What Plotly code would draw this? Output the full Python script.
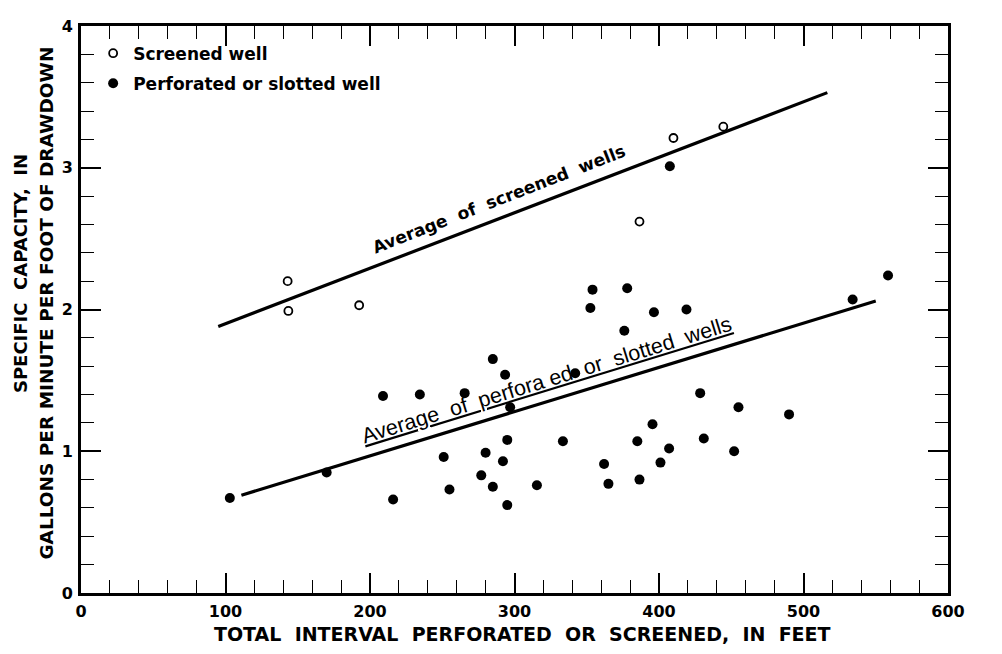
import plotly.graph_objects as go

# Screened wells (open circles)
screened_x = [143, 143.5, 192.5, 386.5, 410, 444.5]
screened_y = [2.20, 1.99, 2.03, 2.62, 3.21, 3.29]

# Perforated or slotted wells (filled circles)
perforated_x = [103, 170, 209, 216, 234.5, 251, 255, 265.5, 277, 280, 285, 285,
                292, 293.5, 295, 295, 297, 315.5, 333.5, 342, 352.5, 354, 362, 365,
                376, 378, 385, 386.5, 395.5, 396.5, 401, 407, 407.5, 419, 428.5,
                431, 452, 455, 490, 534, 558.5]
perforated_y = [0.67, 0.85, 1.39, 0.66, 1.40, 0.96, 0.73, 1.41, 0.83, 0.99, 1.65, 0.75,
                0.93, 1.54, 1.08, 0.62, 1.31, 0.76, 1.07, 1.55, 2.01, 2.14, 0.91, 0.77,
                1.85, 2.15, 1.07, 0.80, 1.19, 1.98, 0.92, 1.02, 3.01, 2.00, 1.41,
                1.09, 1.00, 1.31, 1.26, 2.07, 2.24]

# Average lines (end points)
screened_avg_x = [95, 516.5]
screened_avg_y = [1.88, 3.53]
perforated_avg_x = [111, 550]
perforated_avg_y = [0.69, 2.06]

x_ticks = [0, 100, 200, 300, 400, 500, 600]
y_ticks = [0, 1, 2, 3, 4]

BOLD = dict(family="DejaVu Sans", weight="bold", color="black")
SP2 = "\u00a0 "

fig = go.Figure()

fig.add_trace(go.Scatter(x=screened_avg_x, y=screened_avg_y, mode="lines",
                         line=dict(color="black", width=3.2), showlegend=False,
                         hoverinfo="skip"))
fig.add_trace(go.Scatter(x=perforated_avg_x, y=perforated_avg_y, mode="lines",
                         line=dict(color="black", width=3.2), showlegend=False,
                         hoverinfo="skip"))

fig.add_trace(go.Scatter(x=screened_x, y=screened_y, mode="markers",
                         name="Screened well", legendgroup="a",
                         marker=dict(symbol="circle-open", size=8, color="black",
                                     line=dict(width=1.8, color="black"))))
fig.add_trace(go.Scatter(x=perforated_x, y=perforated_y, mode="markers",
                         name="Perforated or slotted well", legendgroup="b",
                         marker=dict(symbol="circle", size=10, color="black")))

axis_common = dict(
    showline=True, linewidth=3, linecolor="black", mirror="ticks",
    ticks="inside", ticklen=20, tickwidth=1.6, tickcolor="black",
    showgrid=False, zeroline=False,
    tickfont=dict(size=16, **BOLD),
)

fig.update_xaxes(range=[0, 600], tickvals=x_ticks,
                 ticktext=[str(v) for v in x_ticks],
                 minor=dict(dtick=20, tick0=0, ticks="inside", ticklen=13,
                            tickwidth=1.4, tickcolor="black", showgrid=False),
                 ticklabelstandoff=2, **axis_common)
fig.update_yaxes(range=[0, 4], tickvals=y_ticks,
                 ticktext=[str(v) for v in y_ticks],
                 minor=dict(dtick=0.2, tick0=0, ticks="inside", ticklen=13,
                            tickwidth=1.4, tickcolor="black", showgrid=False),
                 ticklabelstandoff=2, **axis_common)

x_title = SP2.join(["TOTAL", "INTERVAL", "PERFORATED", "OR", "SCREENED,", "IN", "FEET"])

annotations = [
    dict(text="SPECIFIC  CAPACITY,  IN", xref="paper", yref="paper",
         x=0, y=0.5625, xshift=-61, textangle=-90, showarrow=False,
         font=dict(size=18, **BOLD), xanchor="center", yanchor="middle"),
    dict(text="GALLONS PER MINUTE PER FOOT OF DRAWDOWN", xref="paper", yref="paper",
         x=0, y=0.5104, xshift=-34, textangle=-90, showarrow=False,
         font=dict(size=18.5, **BOLD), xanchor="center", yanchor="middle"),
    dict(text=x_title, xref="paper",
         yref="paper", x=0.5098, y=0, yshift=-40.5, showarrow=False,
         font=dict(size=19, **BOLD), xanchor="center", yanchor="middle"),
    dict(text="Average\u00a0\u00a0of\u00a0\u00a0screened\u00a0\u00a0wells", x=289.3, y=2.78,
         textangle=-21.3, showarrow=False, font=dict(size=17, **BOLD),
         xanchor="center", yanchor="middle"),
    dict(text="<u>Average\u00a0 of\u00a0 perfora ed\u00a0 or\u00a0 slotted\u00a0 wells</u>",
         x=322.4, y=1.50, textangle=-17.1, showarrow=False,
         font=dict(size=21.5, family="Liberation Sans", color="black"),
         xanchor="center", yanchor="middle"),
]

fig.update_layout(
    width=986, height=638,
    margin=dict(l=73, r=46, t=9, b=53),
    paper_bgcolor="white", plot_bgcolor="white",
    annotations=annotations,
    showlegend=True,
    legend=dict(x=0.014, y=0.983, xanchor="left", yanchor="top",
                bgcolor="rgba(0,0,0,0)", tracegroupgap=5,
                font=dict(size=17, **BOLD)),
)

fig.write_html("out.html")
